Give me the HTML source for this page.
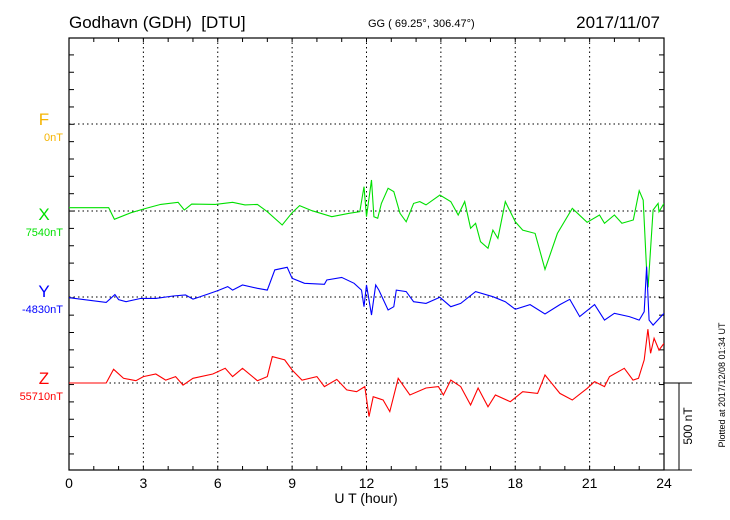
<!DOCTYPE html>
<html><head><meta charset="utf-8"><style>
body{margin:0;background:#fff;}
svg{display:block;font-family:"Liberation Sans",sans-serif;}
</style></head><body>
<svg id="chart" width="730" height="520">
<text x="69" y="28" font-size="17">Godhavn (GDH) &#160;[DTU]</text>
<text x="368" y="27" font-size="11">GG ( 69.25°, 306.47°)</text>
<text x="660" y="28" font-size="17" text-anchor="end">2017/11/07</text>
<g id="axes"></g>
<g id="series"></g>
<text x="366" y="503" font-size="14" text-anchor="middle">U T (hour)</text>
<text transform="translate(692,426) rotate(-90)" font-size="12" text-anchor="middle">500 nT</text>
<text transform="translate(725,385) rotate(-90)" font-size="9" text-anchor="middle">Plotted at 2017/12/08 01:34 UT</text>
</svg>
<script>
const xTicks=[0,3,6,9,12,15,18,21,24];
const comps=["F","X","Y","Z"];
const compBase=["0nT","7540nT","-4830nT","55710nT"];
const xHours=[0,1.6,1.83,2.5,3.1,3.7,4.4,4.65,4.95,5.9,6.6,7.1,7.6,8.0,8.6,9.0,9.3,9.8,10.6,11.3,11.73,11.9,12.0,12.2,12.3,12.45,12.6,12.87,13.1,13.35,13.6,13.9,14.15,14.4,14.96,15.4,15.7,15.96,16.2,16.4,16.6,16.9,17.1,17.3,17.6,18.0,18.3,18.8,19.2,19.7,20.3,20.9,21.4,21.6,22.0,22.3,22.76,23.0,23.16,23.3,23.36,23.56,23.76,23.8,24.0];
const xVals=[19,19,-48,-10,15,38,50,6,40,38,50,35,38,-4,-81,-10,31,2,-33,-13,-4,140,-33,179,-33,-42,44,131,112,-13,-62,44,54,35,92,54,-23,54,-100,-71,-177,-215,-110,-158,54,-62,-110,-129,-337,-129,15,-65,-23,-71,-23,-71,-52,117,63,-340,-440,6,44,-4,44];
const yHours=[0,1.5,1.85,2.0,2.3,2.9,3.5,4.2,4.7,5.0,5.6,6.0,6.4,6.6,7.0,7.6,8.0,8.3,8.8,9.0,9.5,10.3,10.4,11.0,11.5,11.8,11.9,12.0,12.2,12.37,12.5,12.87,13.1,13.2,13.6,13.9,14.4,14.96,15.4,15.8,16.4,17.1,17.6,18.0,18.6,19.2,19.8,20.2,20.6,21.2,21.6,22.0,22.6,23.0,23.2,23.3,23.4,23.56,24.0];
const yVals=[-4,-31,14,-15,-27,-8,-8,6,12,-12,17,37,60,40,69,50,40,156,171,108,79,73,98,113,79,40,-56,69,-104,69,40,-75,-56,40,31,-27,-37,-2,-56,-37,31,2,-27,-71,-44,-98,-44,-13,-113,-44,-133,-94,-113,-133,-85,175,-133,-162,-94];
const zHours=[0,1.5,1.8,2.2,2.7,3.0,3.5,3.9,4.3,4.6,5.0,5.8,6.3,6.6,7.0,7.6,8.0,8.2,8.7,9.0,9.4,10.0,10.3,10.8,11.2,11.6,11.93,12.1,12.27,12.67,12.94,13.28,13.75,14.4,14.9,15.1,15.4,15.8,16.2,16.5,16.9,17.2,17.8,18.3,18.9,19.2,19.8,20.3,20.9,21.2,21.6,21.8,22.4,22.75,22.97,23.2,23.35,23.46,23.6,23.8,24.0];
const zVals=[0,0,79,27,13,37,52,17,37,-12,27,52,85,37,85,13,37,152,133,75,17,37,-21,21,-40,-50,-21,-194,-79,-98,-165,27,-69,-29,-21,-69,17,-21,-127,-29,-137,-69,-108,-50,-60,46,-60,-98,-31,8,-21,37,85,17,27,133,310,171,258,190,229];

const NS="http://www.w3.org/2000/svg";
const L=69,R=664,T=38,B=470;
const base=[124,211,297,383];
const nTpx=500/86.7;
const xs=h=>L+(R-L)*h/24;
const ys=(i,v)=>base[i]-v/nTpx;
function mk(tag,attrs,parent){const e=document.createElementNS(NS,tag);for(const k in attrs)e.setAttribute(k,attrs[k]);parent.appendChild(e);return e;}
const ax=document.getElementById('axes');
const fr=mk('rect',{x:L,y:T,width:R-L,height:B-T,fill:'none',stroke:'#000','stroke-width':1.2},ax);


xTicks.forEach(h=>{
  const x=xs(h);
  if(h>0&&h<24){const g=mk('line',{x1:x,y1:T,x2:x,y2:B,stroke:'#000','stroke-dasharray':'1.5,3','stroke-width':1},ax);
  
  }
  const t=mk('text',{x:x,y:488,'font-size':14,'text-anchor':'middle'},ax);t.textContent=h;
  
  
});
for(let h=1;h<24;h++){const x=xs(h);
  mk('line',{x1:x,y1:T,x2:x,y2:T+4,stroke:'#000'},ax);
  mk('line',{x1:x,y1:B,x2:x,y2:B-4,stroke:'#000'},ax);}
for(let y=T+16.9;y<B;y+=17.35){
  mk('line',{x1:L,y1:y,x2:L+5,y2:y,stroke:'#000'},ax);
  mk('line',{x1:R,y1:y,x2:R-5,y2:y,stroke:'#000'},ax);}
base.forEach((b,i)=>{
  const g=mk('line',{x1:L,y1:b,x2:R,y2:b,stroke:'#000','stroke-dasharray':'1.5,3'},ax);
  
  
});
mk('line',{x1:R,y1:383,x2:692,y2:383,stroke:'#000'},ax);
const sb=mk('line',{x1:679,y1:383,x2:679,y2:470,stroke:'#000'},ax);


mk('line',{x1:R,y1:470,x2:692,y2:470,stroke:'#000'},ax);
const colors=['#f5b400','#00e000','#0000ff','#ff0000'];
const ly=[125,220,297,384];
comps.forEach((c,i)=>{
  const t=mk('text',{x:44,y:ly[i],'font-size':17,fill:colors[i],'text-anchor':'middle'},ax);t.textContent=c;
  
  
  const s=mk('text',{x:63,y:ly[i]+16,'font-size':11,fill:colors[i],'text-anchor':'end'},ax);s.textContent=compBase[i];
  
  
});
const sg=document.getElementById('series');
const defs=mk('defs',{},sg);
const cp=mk('clipPath',{id:'pc'},defs);
mk('rect',{x:L,y:T,width:R-L,height:B-T},cp);
[[xHours,xVals,1,'x-series'],[yHours,yVals,2,'y-series'],[zHours,zVals,3,'z-series']].forEach(([hs,vs,i,n])=>{
  const d=hs.map((h,k)=>(k?'L':'M')+xs(h).toFixed(1)+','+ys(i,vs[k]).toFixed(1)).join('');
  const p=mk('path',{d:d,fill:'none',stroke:colors[i],'stroke-width':1.1,'clip-path':'url(#pc)'},sg);
  
  
});
</script>
</body></html>
